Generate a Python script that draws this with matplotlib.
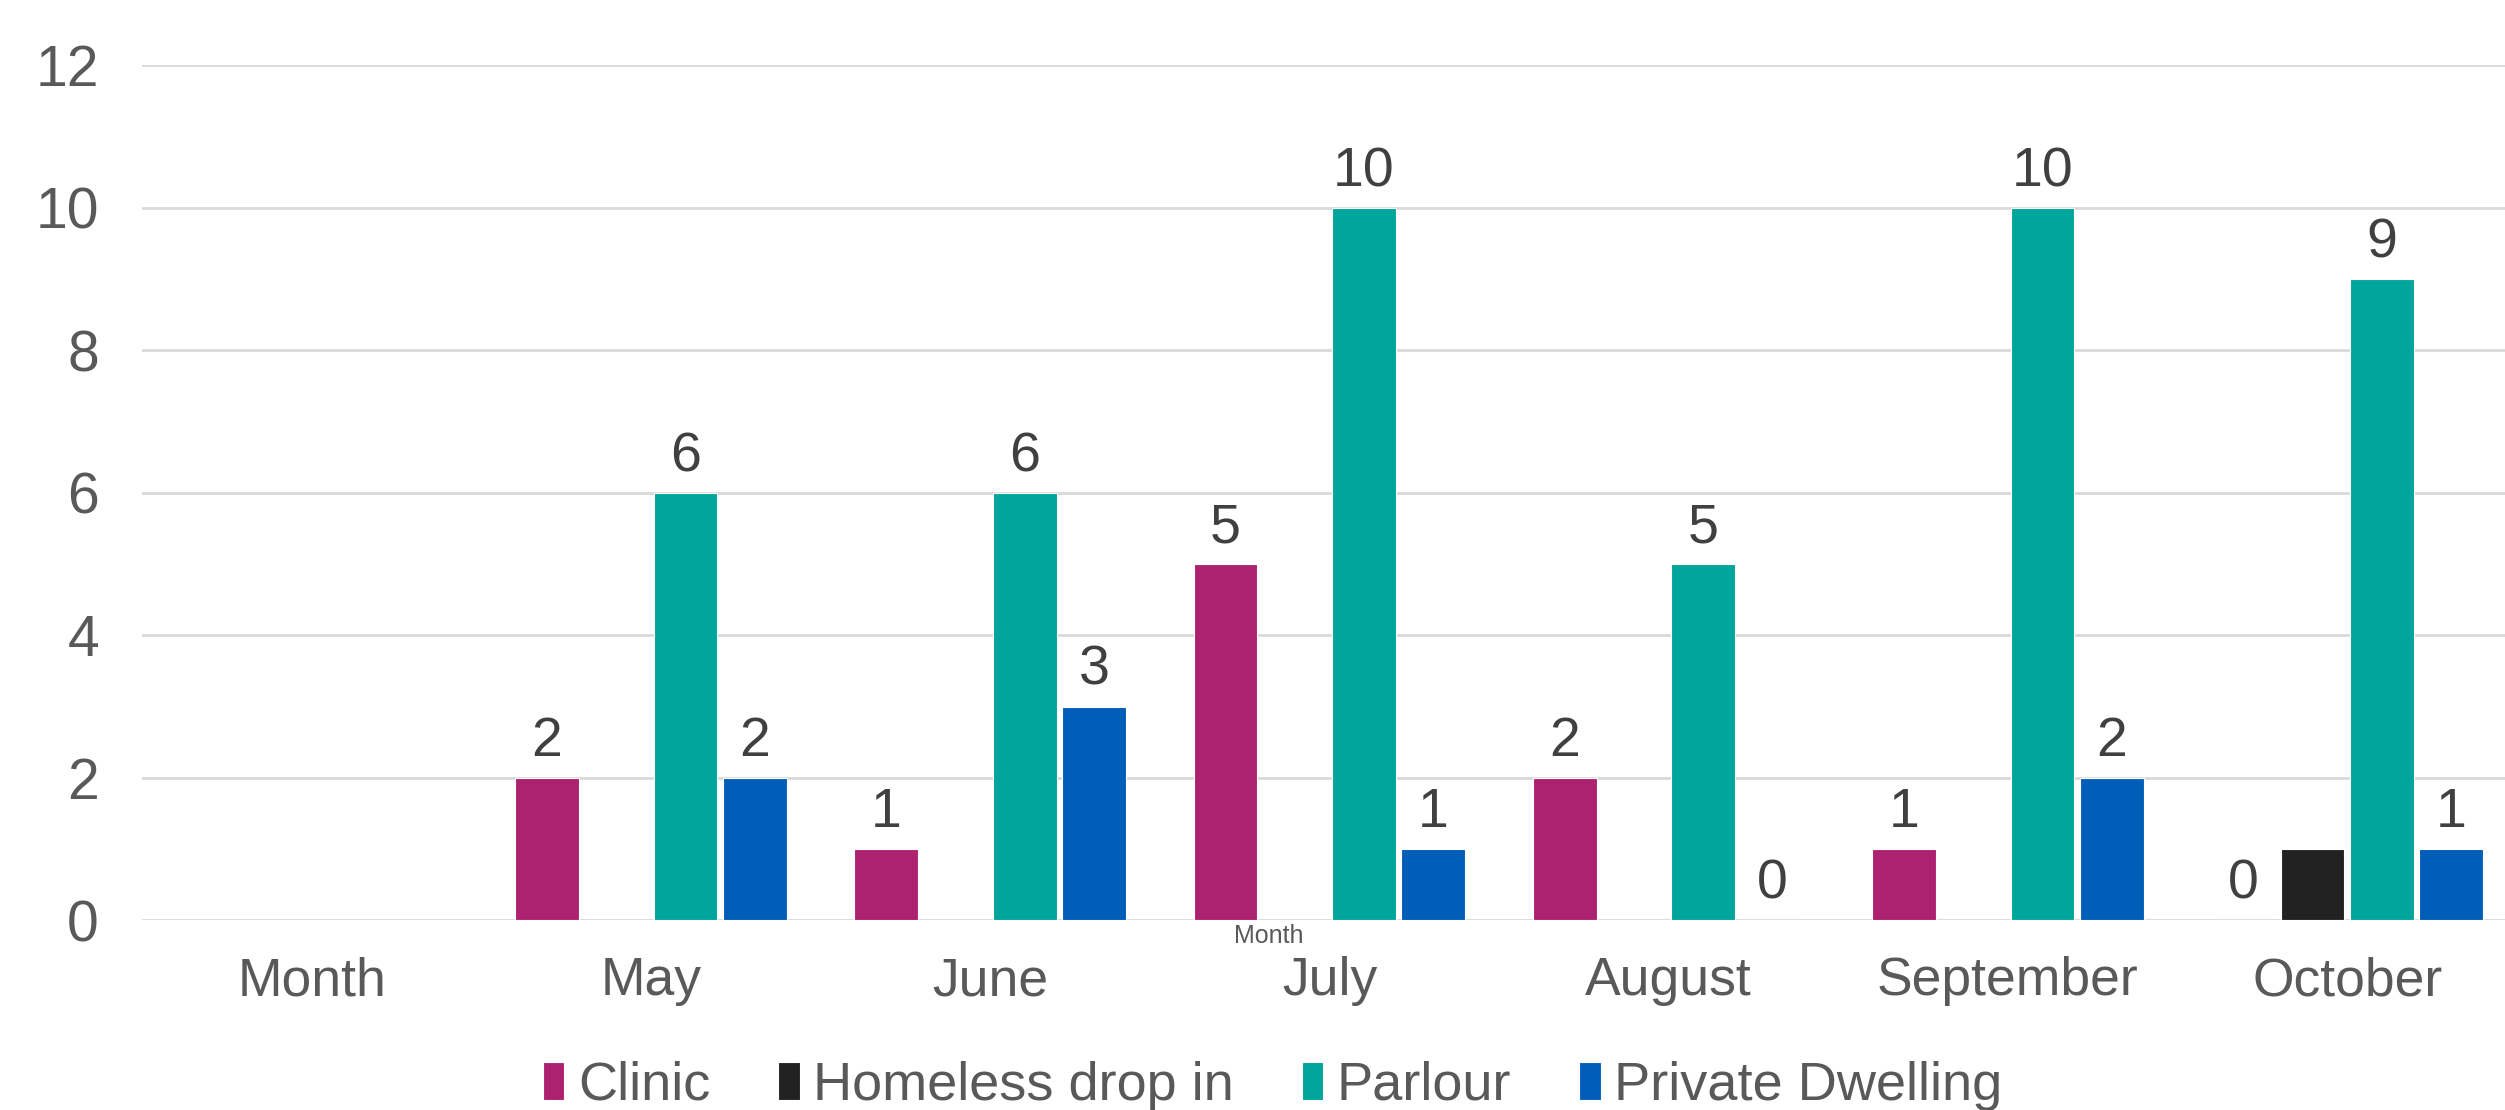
import numpy as np
import matplotlib
matplotlib.use('Agg')
import matplotlib.pyplot as plt

plt.rcParams['font.family'] = ['Liberation Sans', 'DejaVu Sans']

months = ['Month', 'May', 'June', 'July', 'August', 'September', 'October']
series = ['Clinic', 'Homeless drop in', 'Parlour', 'Private Dwelling']
clinic = [np.nan, 2, 1, 5, 2, 1, 0]
homeless = [np.nan, np.nan, np.nan, np.nan, np.nan, np.nan, 1]
parlour = [np.nan, 6, 6, 10, 5, 10, 9]
private = [np.nan, 2, 3, 1, 0, 2, 1]
colors = ['#AD2170', '#222222', '#00A59B', '#005EB8']
show_labels = [True, False, True, True]

fig = plt.figure(figsize=(25.05, 11.10), dpi=100)
ax = fig.add_axes([0.0567, 0.171, 0.948, 0.770])

x = np.arange(len(months))
width = 0.188
step = 0.204
for i, (name, vals) in enumerate(zip(series, [clinic, homeless, parlour, private])):
    xs = x + (i - 1.5) * step
    ax.bar(xs, vals, width, color=colors[i], label=name,
           edgecolor='white', linewidth=0.8, zorder=3)
    if show_labels[i]:
        for xi, v in zip(xs, vals):
            if np.isnan(v):
                continue
            ax.annotate(f'{int(v)}', (xi, v), xytext=(0, 7), textcoords='offset points',
                        ha='center', va='bottom', fontsize=40, color='#404040')

ax.set_xlim(-0.5, len(months) - 0.5)
ax.set_ylim(0, 12)
ax.set_yticks(range(0, 13, 2))
ax.set_xticks(x)
ax.set_xticklabels(months)
ax.tick_params(axis='y', length=0, labelsize=41, labelcolor='#595959', pad=31)
ax.tick_params(axis='x', length=0, labelsize=38.5, labelcolor='#595959', pad=26)
ax.grid(axis='y', color='#d9d9d9', linewidth=2, zorder=0)
for s in ax.spines.values():
    s.set_visible(False)

fig.text(1269 / 2505, 1 - 936 / 1110, 'Month', ha='center', va='center',
         fontsize=18, color='#595959')

fig.legend(loc='center', bbox_to_anchor=(0.508, 0.022), ncol=4, frameon=False,
           fontsize=39, labelcolor='#595959', handlelength=0.4, handleheight=0.7,
           handletextpad=0.25, columnspacing=1.25)

fig.savefig('out.png', dpi=100)
